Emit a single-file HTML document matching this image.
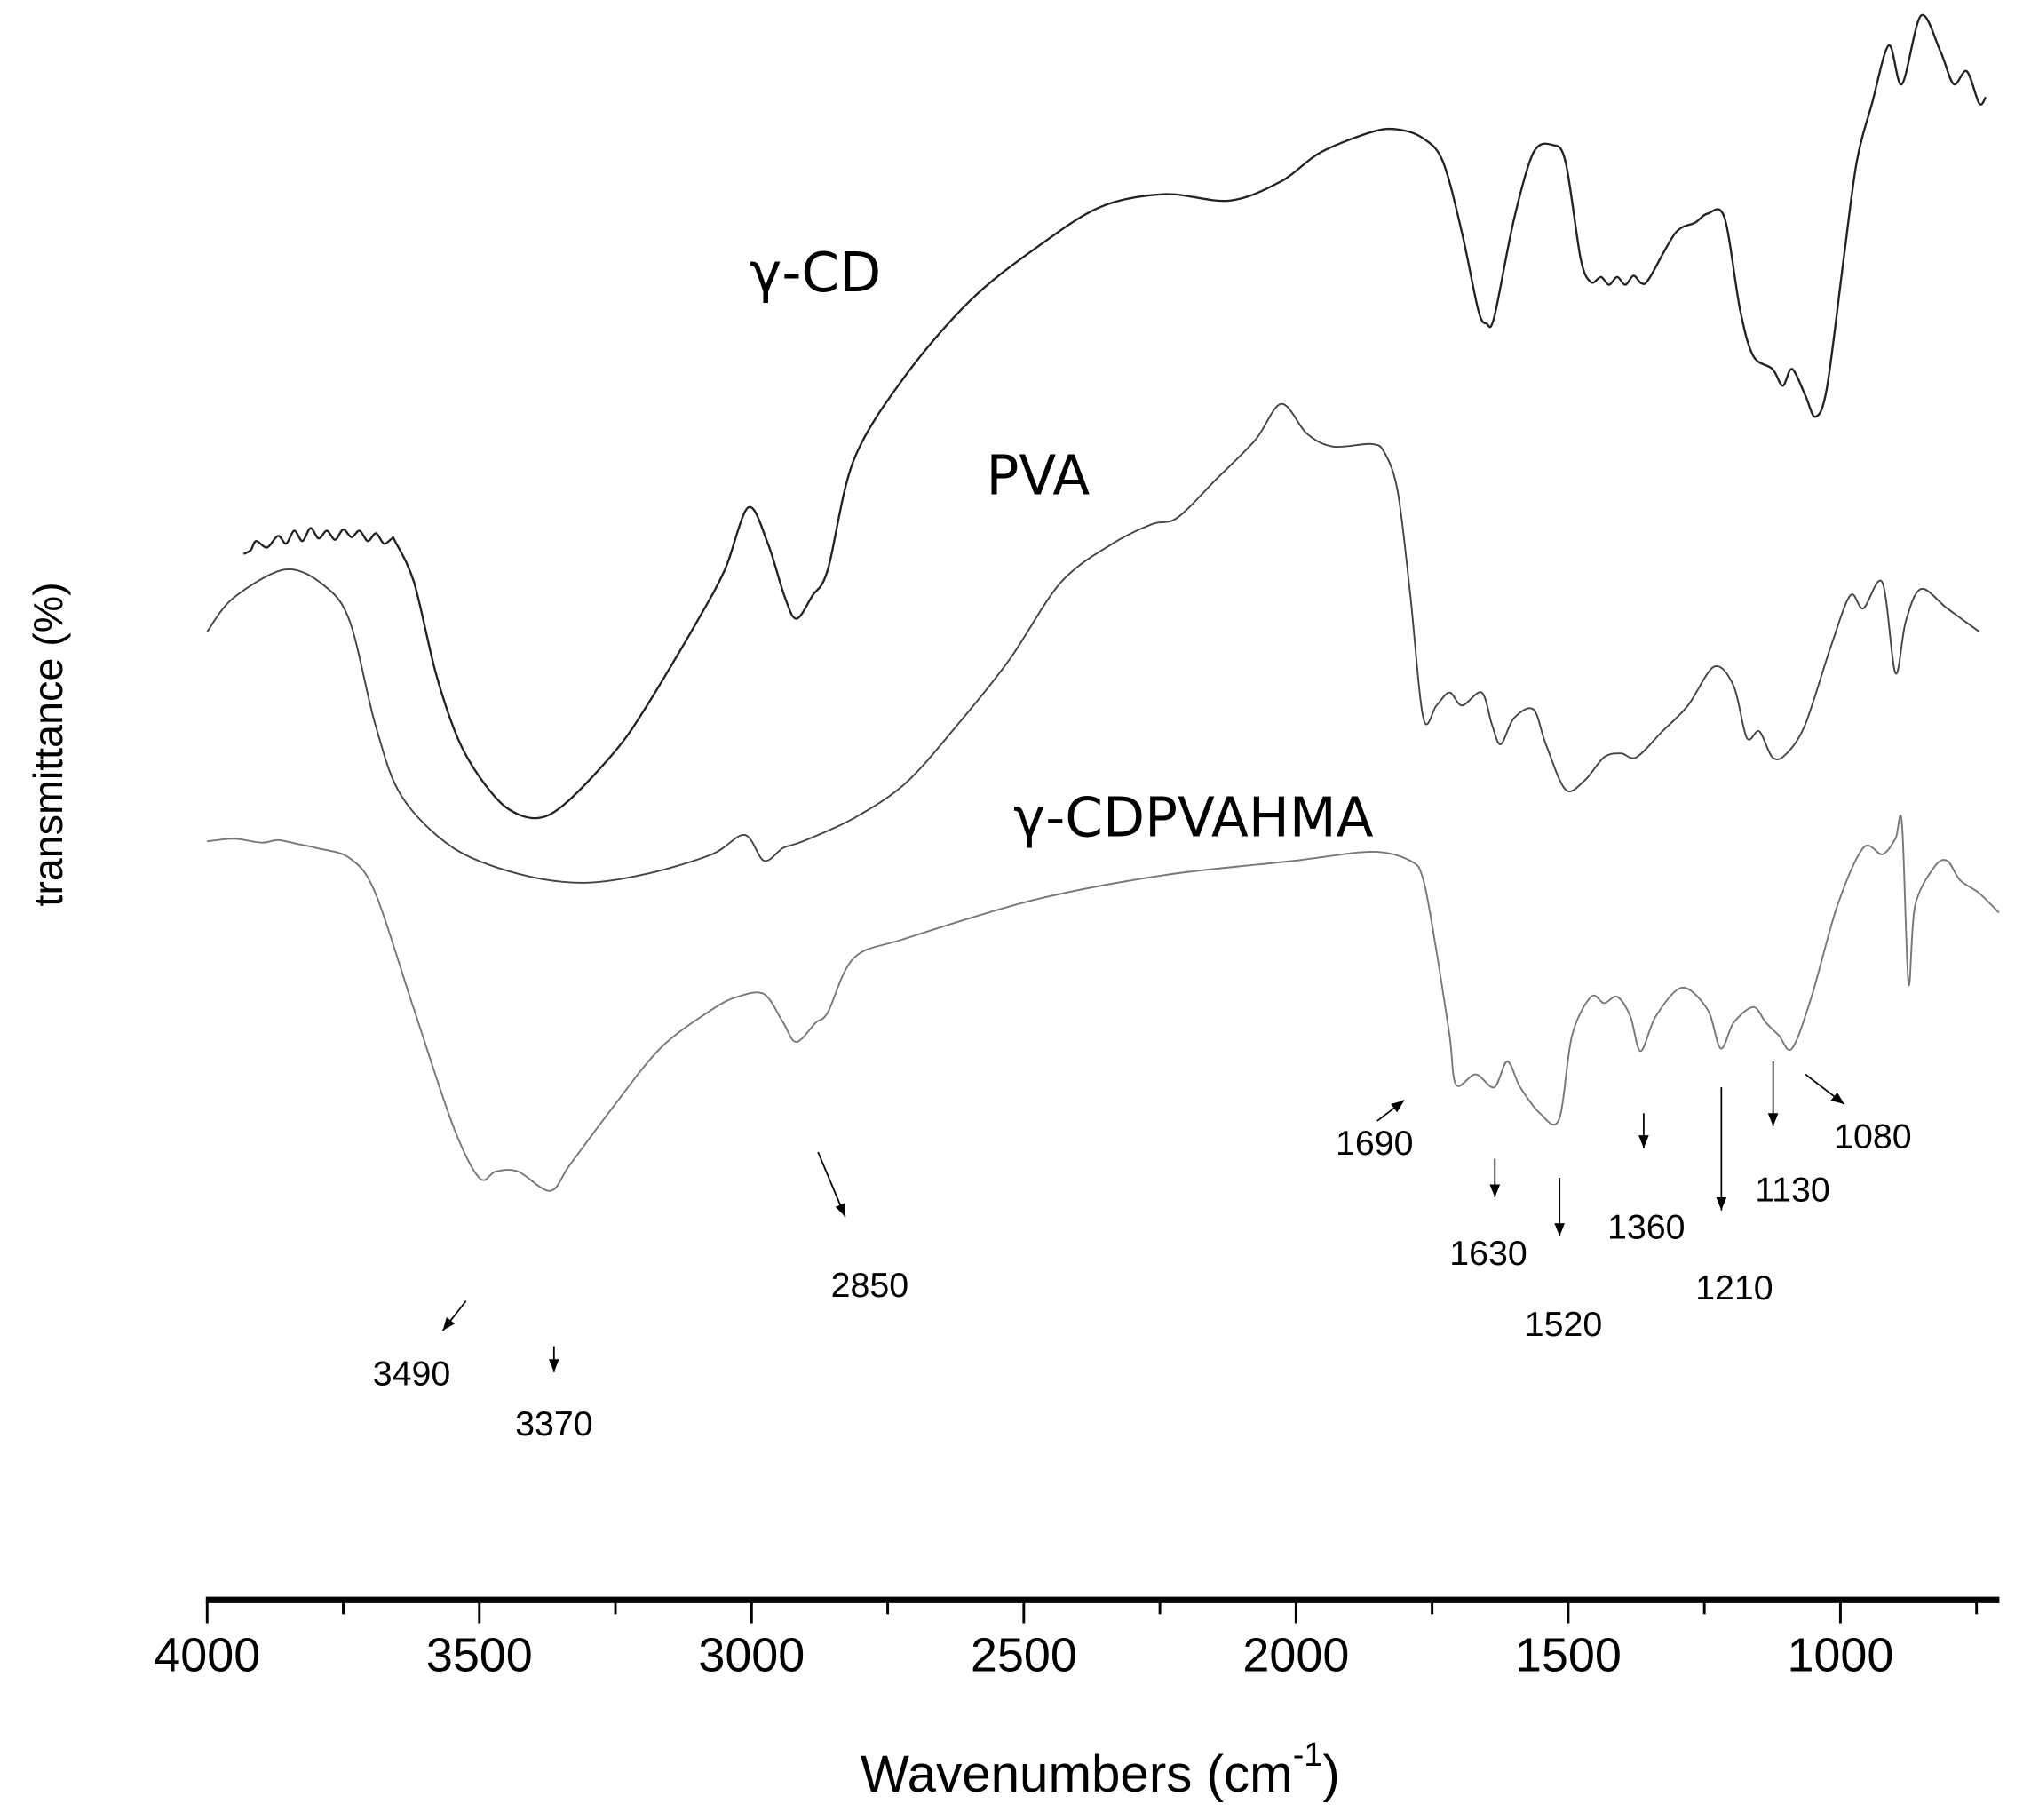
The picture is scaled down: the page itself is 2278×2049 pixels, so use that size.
<!DOCTYPE html>
<html><head><meta charset="utf-8"><style>
html,body{margin:0;padding:0;background:#fff}
svg{display:block}
text{font-family:"Liberation Sans",sans-serif;fill:#000}
.lbl{font-family:"DejaVu Sans","Liberation Sans",sans-serif}
</style></head><body>
<svg id="chart" width="2278" height="2049" viewBox="0 0 1563 1406" xmlns="http://www.w3.org/2000/svg">
<g id="axis"></g>
<g id="series"></g>
<text class="lbl" x="630" y="225" font-size="42" text-anchor="middle">γ-CD</text>
<text class="lbl" x="802" y="382" font-size="42" text-anchor="middle">PVA</text>
<text class="lbl" x="922" y="646" font-size="42" text-anchor="middle">γ-CDPVAHMA</text>
<text x="0" y="0" font-size="32" text-anchor="middle" transform="translate(48,575) rotate(-90)">transmittance (%)</text>
<text x="850" y="1384" font-size="40" text-anchor="middle">Wavenumbers (cm<tspan font-size="26" dy="-20">-1</tspan><tspan dy="20">)</tspan></text>
<g id="ann"></g>
</svg>
<script>
const xTicks = [4000,3500,3000,2500,2000,1500,1000];
const minorTicks = [3750,3250,2750,2250,1750,1250,750];
const cdW = [3933,3920,3910,3890,3870,3855,3840,3825,3810,3795,3780,3765,3750,3735,3720,3705,3690,3675,3660,3655,3620,3580,3540,3500,3450,3394,3340,3250,3192,3100,3049,3006,2970,2940,2918,2888,2860,2812,2717,2598,2479,2360,2241,2122,2027,1956,1861,1813,1766,1730,1695,1665,1650,1636,1600,1564,1529,1505,1477,1458,1440,1425,1410,1395,1380,1365,1351,1303,1267,1244,1213,1184,1160,1125,1106,1089,1065,1046,1025,994,970,942,911,887,852,816,792,768,745,733];
const cdT = [87.2,87.5,88.2,87.7,88.6,88,89,88.2,89.2,88.4,89,88.3,89.1,88.5,89,88.2,88.8,88,88.4,88.2,85,78,73,70,67.6,66.8,68,72,75.5,82,86,90.8,88,84,82.2,84,86,94.5,101,106.8,110.8,114,115,114.5,116,118.2,119.8,120,119.3,117.5,112,106,105,105.5,113,118.2,118.8,117.5,110,108.2,108.6,108,108.6,108,108.7,108.1,108.5,112,112.8,113.5,113.2,106,102.5,101.5,100.2,101.5,99.5,97.8,100,110,117.5,122,126.5,123.5,128.8,126,123.5,124.5,122,122.5];
const pvaW = [4000,3952,3857,3786,3738,3691,3643,3548,3429,3310,3192,3073,3013,2977,2942,2906,2812,2717,2622,2527,2432,2337,2265,2218,2146,2075,2027,1980,1932,1861,1837,1813,1790,1766,1742,1718,1695,1659,1640,1624,1600,1564,1541,1505,1470,1434,1403,1375,1327,1280,1232,1196,1172,1149,1125,1101,1065,1018,982,958,923,899,880,852,804,745];
const pvaT = [81.2,83.8,86,84.8,82,74,68.5,64.5,62.5,61.8,62.5,64,65.5,63.5,64.5,65,66.8,69.5,74,79,85,88,89.5,90,93,96,98.8,96.5,95.5,95.7,95,92,84,74.5,75.5,76.5,75.5,76.5,74,72.5,74.5,75.2,72.5,69,69.7,71.5,71.8,71.5,73.5,75.5,78.5,77,73,73.5,71.5,71.7,74,80,84,83,85,78,82,84.5,83,81.2];
const hmW = [4000,3950,3900,3870,3834,3800,3738,3691,3620,3548,3500,3470,3429,3370,3334,3263,3168,3073,3025,2977,2942,2918,2882,2860,2812,2717,2479,2241,2003,1861,1790,1766,1742,1718,1706,1670,1636,1612,1588,1552,1517,1493,1458,1434,1410,1386,1367,1339,1291,1244,1220,1196,1160,1137,1113,1089,1053,1006,958,923,899,887,875,863,828,804,780,745,709];
const hmT = [65,65.2,64.9,65.1,64.8,64.5,63.7,61,52,43,39,39.5,39.5,38,40,44,49,52,53,53.2,51,49.5,51,51.8,56,57.5,60.5,62.4,63.5,64.2,63.5,62,56.5,50,46.2,47,46,48,46,44,43.5,50,53,52.5,53,51.5,48.8,51.5,53.7,52,49,51,52.2,51,50,49,53,60,64.5,64,65.2,66.4,54,60,63,63.5,62,61,59.5];
const annLabels = ["3490","3370","2850","1690","1630","1520","1360","1210","1130","1080"];

const NS="http://www.w3.org/2000/svg";
function xs(w){return 160+(4000-w)*1262/3000;}
function ys(t){return 1300-10*t;}
function mk(tag,attrs,parent){const e=document.createElementNS(NS,tag);for(const k in attrs)e.setAttribute(k,attrs[k]);parent.appendChild(e);return e;}

const ax=document.getElementById('axis');
let l=mk('line',{x1:xs(4000)-1,x2:xs(708),y1:1236,y2:1236,stroke:'#000','stroke-width':5},ax);


xTicks.forEach(v=>{
  const t=mk('line',{x1:xs(v),x2:xs(v),y1:1236,y2:1254,stroke:'#000','stroke-width':2},ax);
  
  
  const tx=mk('text',{x:xs(v),y:1291,'font-size':37,'text-anchor':'middle'},ax);
  tx.textContent=v;
  
  
});
minorTicks.forEach(v=>{
  const t=mk('line',{x1:xs(v),x2:xs(v),y1:1236,y2:1247,stroke:'#000','stroke-width':2},ax);
  
  
});

const sg=document.getElementById('series');
function path(W,T,color,width,name){
  const P=W.map((w,i)=>[xs(w),ys(T[i])]);
  let d='M'+P[0][0].toFixed(1)+','+P[0][1].toFixed(1);
  const k=0.16;
  for(let i=0;i<P.length-1;i++){
    const p0=P[i-1]||P[i],p1=P[i],p2=P[i+1],p3=P[i+2]||P[i+1];
    const c1=[p1[0]+(p2[0]-p0[0])*k,p1[1]+(p2[1]-p0[1])*k];
    const c2=[p2[0]-(p3[0]-p1[0])*k,p2[1]-(p3[1]-p1[1])*k];
    d+='C'+c1[0].toFixed(1)+','+c1[1].toFixed(1)+' '+c2[0].toFixed(1)+','+c2[1].toFixed(1)+' '+p2[0].toFixed(1)+','+p2[1].toFixed(1);
  }
  const p=mk('path',{d:d,fill:'none',stroke:color,'stroke-width':width,'stroke-linejoin':'round'},sg);
  
  
}
path(cdW,cdT,'#222',1.6,'series-gamma-cd');
path(pvaW,pvaT,'#444',1.3,'series-pva');
path(hmW,hmT,'#777',1.3,'series-gamma-cdpvahma');

const annPos=[[318,1070,360,1005,342,1028],[428,1109,428,1040,428,1060],[672,1002,632,890,653,940],[1062,892,1064,866,1085,850],[1150,977,1155,895,1155,925],[1208,1032,1205,910,1205,955],[1272,957,1270,860,1270,887],[1340,1004,1330,840,1330,935],[1385,928,1370,820,1370,870],[1447,887,1395,830,1425,853]];
const ag=document.getElementById('ann');
annLabels.forEach((s,i)=>{
  const p=annPos[i];
  const t=mk('text',{x:p[0],y:p[1],'font-size':27,'text-anchor':'middle'},ag);
  t.textContent=s;
  
  
  const a=mk('line',{x1:p[2],y1:p[3],x2:p[4],y2:p[5],stroke:'#000','stroke-width':1.2},ag);
  
  
  const dx=p[4]-p[2],dy=p[5]-p[3],L=Math.hypot(dx,dy),ux=dx/L,uy=dy/L;
  const bx=p[4]-ux*10,by=p[5]-uy*10;
  const h=mk('polygon',{points:`${p[4]},${p[5]} ${bx-uy*4},${by+ux*4} ${bx+uy*4},${by-ux*4}`,fill:'#000'},ag);
  
  
});
</script>
</body></html>
